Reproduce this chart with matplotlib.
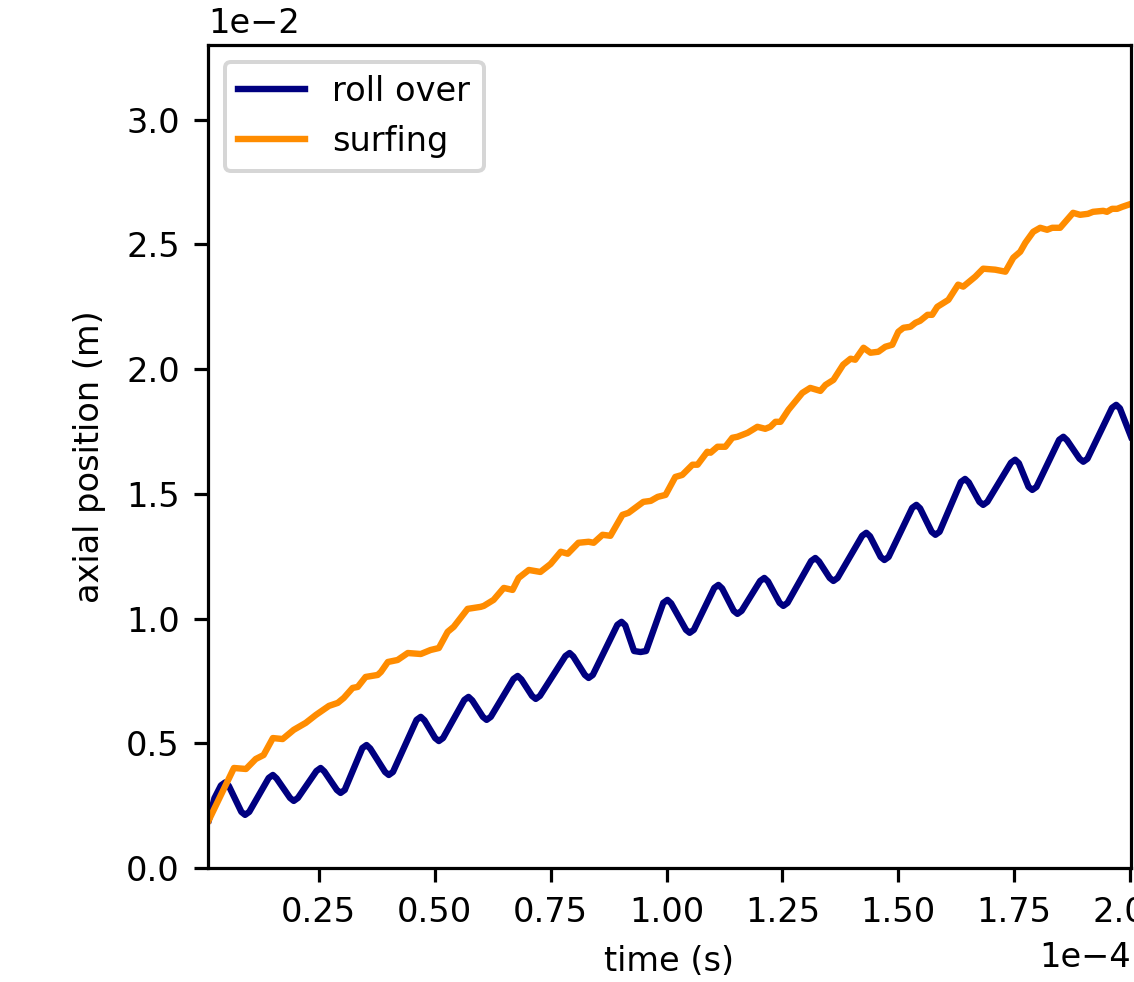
import matplotlib
matplotlib.use("Agg")
import matplotlib.pyplot as plt
import numpy as np

# time in units of 1e-4 s, position in units of 1e-2 m
roll_t = [0.013, 0.025, 0.039, 0.048, 0.056, 0.083, 0.091, 0.100, 0.142, 0.151,
          0.159, 0.188, 0.196, 0.205, 0.245, 0.254, 0.262, 0.289, 0.297, 0.306,
          0.344, 0.353, 0.361, 0.393, 0.401, 0.410, 0.461, 0.470, 0.478, 0.501,
          0.509, 0.518, 0.564, 0.573, 0.581, 0.604, 0.612, 0.621, 0.670, 0.679,
          0.687, 0.710, 0.718, 0.727, 0.782, 0.791, 0.799, 0.824, 0.832, 0.841,
          0.894, 0.903, 0.911, 0.930, 0.944, 0.956, 0.993, 1.002, 1.010, 1.042,
          1.050, 1.059, 1.103, 1.112, 1.120, 1.145, 1.153, 1.162, 1.202, 1.211,
          1.219, 1.244, 1.252, 1.261, 1.312, 1.321, 1.329, 1.352, 1.360, 1.369,
          1.422, 1.431, 1.439, 1.462, 1.470, 1.479, 1.530, 1.539, 1.547, 1.572,
          1.580, 1.589, 1.635, 1.644, 1.652, 1.675, 1.683, 1.692, 1.743, 1.752,
          1.760, 1.781, 1.789, 1.798, 1.847, 1.856, 1.864, 1.891, 1.899, 1.908,
          1.961, 1.970, 1.978, 2.002]
roll_y = [0.193, 0.280, 0.331, 0.343, 0.329, 0.225, 0.213, 0.225, 0.361, 0.373,
          0.359, 0.281, 0.269, 0.281, 0.389, 0.401, 0.387, 0.313, 0.301, 0.313,
          0.481, 0.493, 0.479, 0.385, 0.373, 0.385, 0.594, 0.606, 0.592, 0.521,
          0.509, 0.521, 0.674, 0.686, 0.672, 0.606, 0.594, 0.606, 0.758, 0.770,
          0.756, 0.690, 0.678, 0.690, 0.850, 0.862, 0.848, 0.774, 0.762, 0.774,
          0.975, 0.987, 0.973, 0.870, 0.866, 0.870, 1.063, 1.075, 1.061, 0.955,
          0.943, 0.955, 1.123, 1.135, 1.121, 1.031, 1.019, 1.031, 1.151, 1.163,
          1.149, 1.063, 1.051, 1.063, 1.231, 1.243, 1.229, 1.163, 1.151, 1.163,
          1.332, 1.344, 1.330, 1.247, 1.235, 1.247, 1.444, 1.456, 1.442, 1.348,
          1.336, 1.348, 1.548, 1.560, 1.546, 1.468, 1.456, 1.468, 1.625, 1.637,
          1.623, 1.528, 1.516, 1.528, 1.717, 1.729, 1.715, 1.641, 1.629, 1.641,
          1.845, 1.857, 1.843, 1.729]

surf_t = [0.011, 0.067, 0.093, 0.114, 0.131, 0.151, 0.172, 0.196, 0.222, 0.244,
          0.272, 0.291, 0.304, 0.323, 0.334, 0.351, 0.377, 0.384, 0.399, 0.420,
          0.442, 0.470, 0.491, 0.509, 0.528, 0.541, 0.571, 0.599, 0.606, 0.627,
          0.649, 0.668, 0.681, 0.703, 0.728, 0.750, 0.772, 0.787, 0.810, 0.832,
          0.843, 0.862, 0.879, 0.905, 0.918, 0.950, 0.966, 0.981, 0.998, 1.019,
          1.034, 1.056, 1.067, 1.088, 1.095, 1.110, 1.127, 1.142, 1.153, 1.175,
          1.196, 1.213, 1.224, 1.235, 1.246, 1.263, 1.293, 1.310, 1.332, 1.343,
          1.360, 1.381, 1.397, 1.407, 1.425, 1.440, 1.457, 1.472, 1.487, 1.500,
          1.511, 1.526, 1.537, 1.547, 1.563, 1.573, 1.584, 1.608, 1.629, 1.640,
          1.666, 1.683, 1.709, 1.731, 1.748, 1.763, 1.774, 1.791, 1.806, 1.821,
          1.832, 1.849, 1.877, 1.892, 1.909, 1.920, 1.942, 1.950, 1.961, 1.972,
          1.983, 2.002]
surf_y = [0.185, 0.401, 0.397, 0.437, 0.453, 0.521, 0.517, 0.554, 0.582, 0.614,
          0.650, 0.662, 0.682, 0.722, 0.726, 0.766, 0.774, 0.786, 0.826, 0.834,
          0.862, 0.858, 0.874, 0.882, 0.947, 0.967, 1.039, 1.047, 1.051, 1.075,
          1.123, 1.115, 1.163, 1.195, 1.187, 1.219, 1.268, 1.260, 1.304, 1.308,
          1.304, 1.336, 1.332, 1.416, 1.424, 1.468, 1.472, 1.488, 1.496, 1.568,
          1.576, 1.617, 1.617, 1.669, 1.665, 1.689, 1.689, 1.725, 1.729, 1.745,
          1.769, 1.761, 1.769, 1.789, 1.789, 1.837, 1.905, 1.925, 1.913, 1.937,
          1.957, 2.018, 2.042, 2.038, 2.086, 2.066, 2.070, 2.090, 2.098, 2.150,
          2.166, 2.170, 2.186, 2.194, 2.218, 2.218, 2.250, 2.278, 2.339, 2.331,
          2.371, 2.403, 2.399, 2.391, 2.447, 2.471, 2.507, 2.551, 2.567, 2.559,
          2.567, 2.567, 2.627, 2.619, 2.623, 2.631, 2.635, 2.631, 2.643, 2.643,
          2.651, 2.663]

plt.rcParams["font.family"] = ["DejaVu Sans"]
plt.rcParams["font.size"] = 8.4

# the reference looks like a high-dpi render, so draw at 288 dpi with defaults
fig = plt.figure(figsize=(1134 / 288, 982 / 288), dpi=288)
ax = fig.add_axes([0.1834, 0.1161, 0.814, 0.8381])

ax.plot(np.array(roll_t) * 1e-4, np.array(roll_y) * 1e-2, color="navy",
        lw=1.6, label="roll over")
ax.plot(np.array(surf_t) * 1e-4, np.array(surf_y) * 1e-2, color="darkorange",
        lw=1.6, label="surfing")

ax.set_xlim(0.011e-4, 2.002e-4)
ax.set_ylim(0, 3.3e-2)
ax.ticklabel_format(style="sci", axis="both", scilimits=(0, 0))
ax.set_yticks(np.arange(0, 3.01e-2, 0.5e-2))

ax.set_xlabel("time (s)")
ax.set_ylabel("axial position (m)", labelpad=5)
ax.legend(loc="upper left")

fig.savefig("out.png", dpi=288)
